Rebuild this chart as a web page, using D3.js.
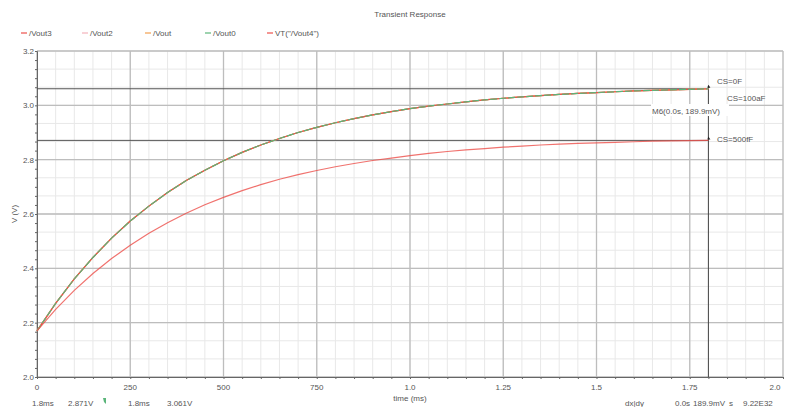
<!DOCTYPE html>
<html>
<head>
<meta charset="utf-8">
<script src="https://cdn.jsdelivr.net/npm/d3@7"></script>
<style>
  html, body { margin: 0; padding: 0; background: #fff; }
  svg { display: block; font-family: "Liberation Sans", Arial, sans-serif; }
  .lbl { fill: #555; font-size: 8px; }
</style>
</head>
<body>
<svg id="chart" width="787" height="407"></svg>
<script>
// ──────────────  data

const timeMs = [0, 0.05, 0.10, 0.15, 0.20, 0.25, 0.30, 0.35, 0.40, 0.45, 0.50, 0.55, 0.60,
  0.65, 0.70, 0.75, 0.80, 0.85, 0.90, 0.95, 1.00, 1.05, 1.10, 1.15, 1.20, 1.25, 1.30,
  1.35, 1.40, 1.45, 1.50, 1.55, 1.60, 1.65, 1.70, 1.75, 1.80];

// CS=0F / CS=100aF group (Vout0, Vout, Vout2, Vout4 overlap)
const vTop = [2.170, 2.271, 2.361, 2.440, 2.511, 2.574, 2.629, 2.679, 2.723, 2.761, 2.796,
  2.827, 2.854, 2.878, 2.900, 2.919, 2.936, 2.951, 2.965, 2.977, 2.988, 2.997, 3.005,
  3.013, 3.020, 3.026, 3.031, 3.036, 3.040, 3.044, 3.047, 3.050, 3.053, 3.055, 3.057,
  3.059, 3.061];

// CS=500fF (Vout3)
const vLow = [2.170, 2.249, 2.319, 2.381, 2.436, 2.485, 2.529, 2.568, 2.603, 2.634, 2.661,
  2.686, 2.708, 2.728, 2.745, 2.760, 2.774, 2.786, 2.797, 2.806, 2.815, 2.823, 2.830,
  2.836, 2.841, 2.846, 2.850, 2.854, 2.857, 2.860, 2.862, 2.864, 2.866, 2.868, 2.869,
  2.870, 2.871];

const seriesNames  = ['/Vout3', '/Vout2', '/Vout', '/Vout0', 'VT("/Vout4")'];
const seriesColors = ['#ec4f4a', '#f4b3bb', '#f2a050', '#5bb57a', '#ec4f4a'];
const legendX      = [21, 82, 145, 205, 267];

const xTicks      = [0, 0.25, 0.5, 0.75, 1.0, 1.25, 1.5, 1.75, 2.0];
const xTickLabels = ['0', '250', '500', '750', '1.0', '1.25', '1.5', '1.75', '2.0'];
const yTicks      = [2.0, 2.2, 2.4, 2.6, 2.8, 3.0, 3.2];

const markerTime = 1.8;
const markerLevels = [3.061, 2.871];

// ──────────────  layout

const svg = d3.select('#chart');
const M = { left: 37, right: 4, top: 51, bottom: 30 };
const W = 787, H = 407;

const x = d3.scaleLinear().domain([0, 2]).range([M.left, W - M.right]);
const y = d3.scaleLinear().domain([2.0, 3.2]).range([H - M.bottom, M.top]);

// minor grid
const minorX = d3.range(0, 2.0001, 0.05);
const minorY = d3.range(0, 19).map(i => 2.0 + i * 0.2 / 3);

svg.append('g').selectAll('line').data(minorX).join('line')
  .attr('x1', d => x(d)).attr('x2', d => x(d))
  .attr('y1', y(2.0)).attr('y2', y(3.2))
  .attr('stroke', '#e8e8e8').attr('stroke-width', 1);
svg.append('g').selectAll('line').data(minorY).join('line')
  .attr('x1', x(0)).attr('x2', x(2))
  .attr('y1', d => y(d)).attr('y2', d => y(d))
  .attr('stroke', '#e8e8e8').attr('stroke-width', 1);

// major grid
svg.append('g').selectAll('line').data(xTicks).join('line')
  .attr('x1', d => x(d)).attr('x2', d => x(d))
  .attr('y1', y(2.0)).attr('y2', y(3.2))
  .attr('stroke', '#bdbdbd').attr('stroke-width', 1.3);
svg.append('g').selectAll('line').data(yTicks).join('line')
  .attr('x1', x(0)).attr('x2', x(2))
  .attr('y1', d => y(d)).attr('y2', d => y(d))
  .attr('stroke', '#bdbdbd').attr('stroke-width', 1.3);

// axes
const xAxis = d3.axisBottom(x).tickValues(d3.range(0, 2.0001, 0.05)).tickSize(2).tickFormat('');
const yAxis = d3.axisLeft(y).tickValues(d3.range(0, 37).map(i => 2.0 + i * 0.2 / 6)).tickSize(2).tickFormat('');
svg.append('g').attr('transform', `translate(0,${y(2.0)})`).call(xAxis)
  .call(g => g.selectAll('path,line').attr('stroke', '#666'));
svg.append('g').attr('transform', `translate(${x(0)},0)`).call(yAxis)
  .call(g => g.selectAll('path,line').attr('stroke', '#666'));

svg.append('g').selectAll('text').data(xTicks).join('text')
  .attr('class', 'lbl').attr('x', d => Math.min(x(d), 775)).attr('y', 390)
  .attr('text-anchor', 'middle')
  .text((d, i) => xTickLabels[i]);
svg.append('g').selectAll('text').data(yTicks).join('text')
  .attr('class', 'lbl').attr('x', 34).attr('y', d => y(d) + 3)
  .attr('text-anchor', 'end')
  .text(d => d.toFixed(1));

svg.append('text').attr('class', 'lbl').attr('x', x(1.0)).attr('y', 401)
  .attr('text-anchor', 'middle').text('time (ms)');
svg.append('text').attr('class', 'lbl')
  .attr('transform', `translate(17,${y(2.6)}) rotate(-90)`)
  .attr('text-anchor', 'middle').text('V (V)');

// title
svg.append('text').attr('class', 'lbl').attr('x', 410).attr('y', 17)
  .attr('text-anchor', 'middle').text('Transient Response');

// legend
const leg = svg.append('g').selectAll('g').data(seriesNames).join('g')
  .attr('transform', (d, i) => `translate(${legendX[i]},33)`);
leg.append('line').attr('x1', 0).attr('x2', 6).attr('y1', 0).attr('y2', 0)
  .attr('stroke', (d, i) => seriesColors[i]).attr('stroke-width', 1.2);
leg.append('text').attr('class', 'lbl').attr('x', 8).attr('y', 3).text(d => d);

// marker lines
svg.append('g').selectAll('line').data(markerLevels).join('line')
  .attr('x1', x(0)).attr('x2', x(markerTime))
  .attr('y1', d => y(d)).attr('y2', d => y(d))
  .attr('stroke', '#555').attr('stroke-width', 1);
svg.append('line')
  .attr('x1', x(markerTime)).attr('x2', x(markerTime))
  .attr('y1', y(markerLevels[0]) - 3).attr('y2', y(2.0))
  .attr('stroke', '#444').attr('stroke-width', 1);
svg.append('g').selectAll('path').data(markerLevels).join('path')
  .attr('d', d => `M${x(markerTime)},${y(d) - 4} l2,3 l-3,0 z`)
  .attr('fill', '#222');

// curves
const line = d3.line().x((d, i) => x(timeMs[i])).y(d => y(d));
const curves = [
  { v: vTop, c: seriesColors[1], dash: null, op: 1 },
  { v: vTop, c: seriesColors[2], dash: null, op: 1 },
  { v: vTop, c: seriesColors[4], dash: null, op: 1 },
  { v: vTop, c: seriesColors[3], dash: '7,2', op: 1 },
  { v: vLow, c: seriesColors[0], dash: null, op: 0.8 },
];
svg.append('g').selectAll('path').data(curves).join('path')
  .attr('d', d => line(d.v))
  .attr('fill', 'none')
  .attr('stroke', d => d.c)
  .attr('stroke-width', 1.2)
  .attr('stroke-opacity', d => d.op)
  .attr('stroke-dasharray', d => d.dash);

// marker annotations
svg.append('rect').attr('x', 651).attr('y', 104).attr('width', 78).attr('height', 12).attr('fill', '#fff');
svg.append('text').attr('class', 'lbl').attr('x', 652).attr('y', 114).text('M6(0.0s, 189.9mV)');
svg.append('text').attr('class', 'lbl').attr('x', 717).attr('y', 84).text('CS=0F');
svg.append('text').attr('class', 'lbl').attr('x', 727).attr('y', 101).text('CS=100aF');
svg.append('text').attr('class', 'lbl').attr('x', 717).attr('y', 142).text('CS=500fF');

// status row
const status = [
  [32, '1.8ms'], [68, '2.871V'], [128, '1.8ms'], [167, '3.061V'],
  [625, 'dx|dy'], [675, '0.0s'], [693, '189.9mV'], [729, 's'], [743, '9.22E32'],
];
svg.append('g').selectAll('text').data(status).join('text')
  .attr('class', 'lbl').attr('x', d => d[0]).attr('y', 406).text(d => d[1]);
svg.append('path').attr('d', 'M103,398 l3,0 l0,6 l-2,-2 z').attr('fill', '#5bb57a');
</script>
</body>
</html>
